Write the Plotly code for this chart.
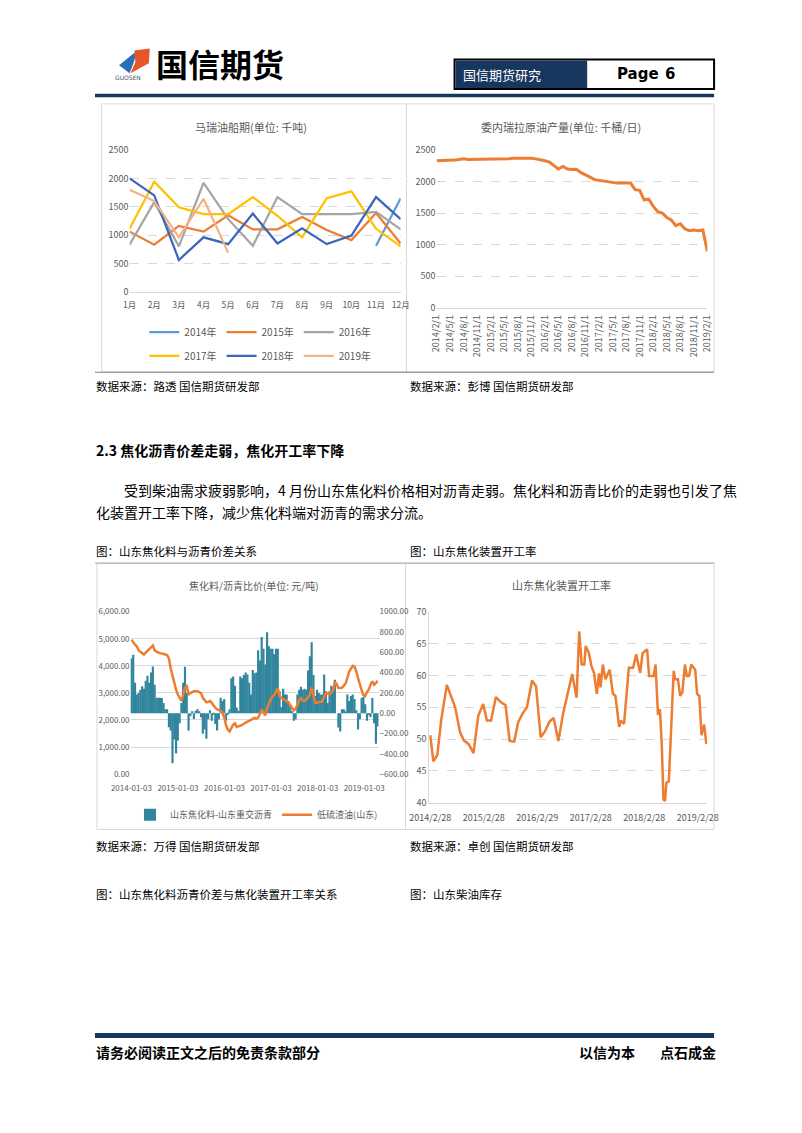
import plotly.graph_objects as go
import pandas as pd

W, H = 802, 1133
def X(px): return px / W
def Y(py): return 1 - py / H

FONT = "Noto Sans CJK SC"
NUMF = "Liberation Sans Narrow, Noto Sans CJK SC, sans-serif"
GRAY = "#595959"
GRID = "#D9D9D9"
NAVY = "#17375E"

# ---------------- Chart 1: 马瑞油船期 ----------------
months1 = ["1月", "2月", "3月", "4月", "5月", "6月", "7月", "8月", "9月", "10月", "11月", "12月"]
ship_2014 = [None, None, None, None, None, None, None, None, None, None, 810, 1650]
ship_2015 = [1060, 830, 1160, 1060, 1350, 1100, 1100, 1320, 1090, 910, 1390, 850]
ship_2016 = [830, 1580, 800, 1920, 1280, 810, 1670, 1370, 1370, 1370, 1410, 1100]
ship_2017 = [1110, 1940, 1490, 1370, 1370, 1670, 1340, 960, 1650, 1770, 1110, 800]
ship_2018 = [2000, 1700, 560, 960, 840, 1380, 850, 1120, 840, 990, 1670, 1280]
ship_2019 = [1800, 1600, 960, 1640, 690]
series1 = [("2014年", ship_2014, "#5B9BD5", "legend"),
           ("2015年", ship_2015, "#ED7D31", "legend"),
           ("2016年", ship_2016, "#A5A5A5", "legend"),
           ("2017年", ship_2017, "#FFC000", "legend2"),
           ("2018年", ship_2018, "#3C65BE", "legend2"),
           ("2019年", ship_2019, "#F4B183", "legend2")]

# ---------------- Chart 2: 委内瑞拉原油产量 ----------------
ven_prod = [2330, 2330, 2330, 2335, 2340, 2350, 2360, 2350, 2350, 2350, 2350,
            2350, 2350, 2350, 2350, 2360, 2360, 2370, 2370, 2375, 2380, 2370, 2360,
            2350, 2330, 2310, 2250, 2200, 2240, 2200, 2190, 2195, 2140, 2110, 2070,
            2030, 2020, 2000, 1990, 1985, 1975, 1975, 1980, 1975, 1870, 1860, 1710,
            1720, 1610, 1520, 1500, 1430, 1390, 1300, 1330, 1250, 1220, 1230, 1220,
            1230, 890]
cats2 = []
y_, m_ = 2014, 2
for _ in ven_prod:
    cats2.append(f"{y_}/{m_}/1")
    m_ += 1
    if m_ > 12:
        m_ = 1
        y_ += 1
ticks2 = cats2[::3]

# ---------------- Chart 3: 焦化料/沥青比价 ----------------
spread3 = [540, 575, 300, 184, 200, 230, 265, 240, 320, 370,
           300, 400, 460, 280, 152, 152, 152, 150, 100, 39,
           39, -139, -171, -494, -260, -397, -268, -100, 100, 300,
           458, 200, -171, -30, 20, -58, 23, 39, 20, -40,
           -203, -160, -252, -60, 30, -74, -10, -106, -171, -60,
           152, 119, 140, -74, -10, 39, 345, 361, 270, 55,
           23, 361, 345, 377, 400, 380, 300, 184, 426, 394,
           400, 620, 520, 750, 636, 480, 797, 660, 636, 636,
           580, 636, 636, 216, 60, 240, 184, 184, 120, 60,
           20, -74, -60, 184, 230, 260, 230, 240, 230, 420,
           560, 700, 377, 170, 230, 200, 184, 184, 380, 216,
           100, 216, 270, 250, 329, 0, -140, -180, 39, 39,
           20, 184, 120, 170, 184, 140, 30, -160, -60, 150,
           160, 87, -74, -20, -40, 150, -100, -300, -130]
resid3 = [4960, 4850, 4780, 4720, 4570, 4520, 4460, 4420, 4490, 4550,
          4620, 4690, 4750, 4570, 4520, 4490, 4470, 4460, 4440, 4420,
          4390, 4270, 3900, 3600, 3380, 3120, 2940, 2800, 2700, 2920,
          3200, 3250, 2950, 2990, 3030, 3060, 3060, 3060, 3030, 2990,
          2820, 2720, 2650, 2670, 2700, 2630, 2530, 2450, 2390, 2360,
          2340, 2250, 2100, 1800, 1650, 1580, 1730, 1820, 1880, 1740,
          1760, 1780, 1820, 1860, 1910, 1940, 1970, 2000, 2040, 2080,
          2050, 2085, 2220, 2390, 2280, 2170, 2430, 2620, 2760, 2860,
          2920, 3040, 3180, 2900, 2800, 2770, 2740, 2700, 2640, 2550,
          2460, 2360, 2400, 2580, 2730, 2800, 2720, 2710, 2750, 2840,
          2940, 3200, 2950, 2640, 2640, 2650, 2670, 2690, 2840, 3000,
          2970, 2950, 3010, 3110, 3400, 3330, 3180, 3180, 3190, 3270,
          3340, 3550, 3780, 3900, 4000, 3970, 3800, 3550, 3290, 3100,
          2920, 2880, 3030, 3130, 3300, 3430, 3300, 3355, 3440]
dates3 = pd.date_range("2014-01-03", periods=len(spread3), freq="14D")
ticks3 = ["2014-01-03", "2015-01-03", "2016-01-03", "2017-01-03", "2018-01-03", "2019-01-03"]

# ---------------- Chart 4: 山东焦化装置开工率 ----------------
dates4 = ["2014-02-28", "2014-03-21", "2014-04-17", "2014-05-15", "2014-06-21", "2014-07-20",
          "2014-08-17", "2014-09-19", "2014-10-15", "2014-11-17", "2014-12-20", "2015-01-22",
          "2015-02-24", "2015-03-22", "2015-04-19", "2015-05-22", "2015-06-24", "2015-07-27",
          "2015-08-24", "2015-09-24", "2015-10-22", "2015-11-20", "2015-12-20", "2016-01-24",
          "2016-02-20", "2016-03-23", "2016-04-21", "2016-05-21", "2016-06-19", "2016-07-22",
          "2016-08-23", "2016-09-25",
          "2016-10-24", "2016-11-23", "2016-12-11", "2016-12-28", "2017-01-15", "2017-01-24",
          "2017-02-15", "2017-03-04", "2017-03-22", "2017-04-10", "2017-04-25", "2017-05-06",
          "2017-05-21", "2017-06-08", "2017-07-07", "2017-07-29", "2017-08-15", "2017-09-10",
          "2017-09-21", "2017-10-13", "2017-11-15", "2017-12-14", "2018-01-04", "2018-01-31",
          "2018-02-17", "2018-03-20", "2018-04-02", "2018-05-03", "2018-05-16", "2018-06-02",
          "2018-06-15", "2018-06-28", "2018-07-09", "2018-07-20", "2018-07-29", "2018-08-15",
          "2018-09-06", "2018-09-17", "2018-09-28", "2018-10-16", "2018-10-31", "2018-11-15",
          "2018-12-03", "2018-12-16", "2018-12-31", "2019-01-15", "2019-02-11", "2019-02-24",
          "2019-03-11", "2019-03-26", "2019-04-13", "2019-04-28"]
rate4 = [50.6, 46.5, 47.5, 53.2, 58.5, 56.8, 55.0, 51.1, 49.8, 49.2, 47.8, 53.7,
         55.5, 52.9, 52.9, 56.6, 55.8, 55.3, 49.7, 49.6, 52.7, 54.0, 55.0, 59.2,
         58.3, 50.3, 51.2, 52.7, 53.3, 49.7, 54.0, 57.3,
         60.2, 56.5, 66.9, 61.7, 61.7, 64.6, 63.5, 61.5, 60.4, 57.1, 60.3, 58.1,
         61.7, 59.4, 60.9, 57.1, 56.8, 51.9, 52.9, 52.4, 61.2, 61.2, 63.3, 60.4,
         63.5, 64.1, 59.9, 59.9, 61.7, 53.8, 54.7, 49.0, 40.5, 40.3, 43.1, 43.4,
         54.2, 60.7, 59.4, 59.4, 56.8, 57.3, 61.7, 59.9, 59.9, 61.7, 60.9, 57.1,
         56.8, 50.6, 52.3, 49.2]
ticks4 = ["2014-02-28", "2015-02-28", "2016-02-29", "2017-02-28", "2018-02-28", "2019-02-28"]
ticktext4 = ["2014/2/28", "2015/2/28", "2016/2/29", "2017/2/28", "2018/2/28", "2019/2/28"]

fig = go.Figure()

for name, vals, col, lg in series1:
    fig.add_trace(go.Scatter(x=months1[:len(vals)], y=vals, name=name, mode="lines",
                             line=dict(color=col, width=2.25), xaxis="x", yaxis="y",
                             legend=lg, connectgaps=False))

fig.add_trace(go.Scatter(x=cats2, y=ven_prod, mode="lines", line=dict(color="#ED7D31", width=3),
                         xaxis="x2", yaxis="y2", showlegend=False))

fig.add_trace(go.Bar(x=dates3, y=spread3, name="山东焦化料-山东重交沥青",
                     width=17 * 86400000, marker=dict(color="#31859C", line=dict(width=0)),
                     xaxis="x3", yaxis="y3", legend="legend3"))
fig.add_trace(go.Scatter(x=dates3, y=resid3, name="低硫渣油(山东)", mode="lines",
                         line=dict(color="#ED7D31", width=2.5),
                         xaxis="x3", yaxis="y4", legend="legend3"))

fig.add_trace(go.Scatter(x=dates4, y=rate4, mode="lines", line=dict(color="#ED7D31", width=2.5),
                         xaxis="x4", yaxis="y5", showlegend=False))

tf = dict(family=NUMF, size=9, color=GRAY)
tf_small = dict(family=NUMF, size=8, color=GRAY)

legend_common = dict(orientation="h", xanchor="center", yanchor="middle",
                     bgcolor="rgba(0,0,0,0)", itemwidth=30,
                     font=dict(family=NUMF, size=10, color=GRAY))

fig.update_layout(
    width=W, height=H, margin=dict(l=0, r=0, t=0, b=0),
    paper_bgcolor="white", plot_bgcolor="white",
    font=dict(family=FONT, color="#000000"),
    barmode="overlay",
    legend=dict(x=X(250), y=Y(329), **legend_common),
    legend2=dict(x=X(250), y=Y(353), **legend_common),
    legend3=dict(x=X(246), y=Y(817), **{**legend_common, "font": dict(family=NUMF, size=9, color=GRAY)}),
    # chart 1
    xaxis=dict(domain=[X(114), X(396)], anchor="y", type="category", showgrid=False,
               showline=True, linecolor=GRID, ticks="", tickfont=dict(family=NUMF, size=8.5, color=GRAY),
               ticklabelstandoff=5, fixedrange=True),
    yaxis=dict(domain=[Y(288), Y(144.7)], anchor="x", range=[0, 2500], dtick=500,
               showgrid=True, gridcolor=GRID, griddash="dash", zeroline=False,
               showline=False, tickfont=tf, ticks=""),
    # chart 2
    xaxis2=dict(domain=[X(433.3), X(715)], anchor="y2", type="category", showgrid=False,
                showline=True, linecolor=GRID, ticks="", tickvals=ticks2, ticktext=ticks2,
                tickangle=-90, tickfont=dict(family=NUMF, size=9, color=GRAY),
                ticklabelstandoff=3),
    yaxis2=dict(domain=[Y(304), Y(144.7)], anchor="x2", range=[0, 2500], dtick=500,
                showgrid=True, gridcolor=GRID, griddash="dash", zeroline=False,
                showline=False, tickfont=tf, ticks=""),
    # chart 3
    xaxis3=dict(domain=[X(115), X(373)], anchor="y3", type="date",
                range=["2013-12-27", "2019-04-26"], tickvals=ticks3, ticktext=ticks3,
                showgrid=False, showline=False, ticks="", tickfont=tf_small,
                ticklabelstandoff=8),
    yaxis3=dict(domain=[Y(776), Y(611.7)], anchor="x3", side="right", range=[-600, 1000],
                dtick=200, tickformat=".2f", showgrid=False, zeroline=False,
                tickfont=tf_small, ticks=""),
    yaxis4=dict(overlaying="y3", anchor="x3", side="left", range=[0, 6000], dtick=1000,
                tickformat=",.2f", showgrid=True, gridcolor=GRID, zeroline=False,
                tickfont=tf_small, ticks=""),
    # chart 4
    xaxis4=dict(domain=[X(425.7), X(715)], anchor="y5", type="date",
                range=["2014-02-21", "2019-05-05"], tickvals=ticks4, ticktext=ticktext4,
                showgrid=False, showline=True, linecolor=GRID, ticks="", tickfont=tf,
                ticklabelstandoff=6),
    yaxis5=dict(domain=[Y(805), Y(611.7)], anchor="x4", range=[40, 70], dtick=5,
                showgrid=True, gridcolor=GRID, griddash="dash", zeroline=False,
                showline=True, linecolor=GRID, tickfont=tf, ticks=""),
)

shapes = []
def rect(x0, y0, x1, y1, line=None, fill=None, lw=1):
    shapes.append(dict(type="rect", xref="paper", yref="paper", x0=X(x0), x1=X(x1),
                       y0=Y(y1), y1=Y(y0), line=dict(color=line or "rgba(0,0,0,0)", width=lw if line else 0),
                       fillcolor=fill or "rgba(0,0,0,0)", layer="below"))
def hline(x0, x1, y, color, w):
    shapes.append(dict(type="line", xref="paper", yref="paper", x0=X(x0), x1=X(x1),
                       y0=Y(y), y1=Y(y), line=dict(color=color, width=w)))
def poly(pts, color):
    d = "M " + " L ".join(f"{X(a):.5f},{Y(b):.5f}" for a, b in pts) + " Z"
    shapes.append(dict(type="path", xref="paper", yref="paper", path=d,
                       fillcolor=color, line=dict(width=0)))

# chart frames
rect(85, 98, 402, 369, line=GRID)
rect(402, 98, 722, 369, line=GRID)
rect(80, 563, 401, 832, line=GRID)
rect(401, 563, 722, 832, line=GRID)
hline(78, 722, 369.5, "#7F7F7F", 1)
hline(78, 722, 562.5, "#A6A6A6", 1)

# header
poly([(103, 59), (122, 44), (118, 57), (114, 67)], "#2C6FB7")
poly([(119, 44), (135, 42), (134, 57), (115, 67), (120, 56)], "#E8552B")
rect(452, 53, 722, 83, line="#000000", lw=2)
shapes.append(dict(type="rect", xref="paper", yref="paper", x0=X(453), x1=X(590),
                   y0=Y(82), y1=Y(54), fillcolor=NAVY, line=dict(width=0)))
hline(78, 722, 89.5, NAVY, 3.5)
# footer
hline(78, 722, 1040.5, NAVY, 5)

fig.update_layout(shapes=shapes)

ann = []
def text(x, y, s, size=12, color="#000000", bold=False, anchor="left", family=FONT):
    ann.append(dict(xref="paper", yref="paper", x=X(x), y=Y(y), text=(f"<b>{s}</b>" if bold else s),
                    showarrow=False, xanchor=anchor, yanchor="middle",
                    font=dict(family=family, size=size, color=color)))

text(97, 71, "GUOSEN", size=6, color="#44546A", family="DejaVu Sans")
text(139, 57, "国信期货", size=32, bold=True)
text(459, 68, "国信期货研究", size=13, color="#FFFFFF")
text(619, 68, "Page", size=15, bold=True, family="DejaVu Sans")
text(669, 68, "6", size=15, bold=True, family="DejaVu Sans")

text(240, 121, "马瑞油船期(单位: 千吨)", size=11, color=GRAY, anchor="center")
text(563, 121, "委内瑞拉原油产量(单位: 千桶/日)", size=11, color=GRAY, anchor="center")
text(243, 585, "焦化料/沥青比价(单位: 元/吨)", size=10, color=GRAY, anchor="center")
text(563, 585, "山东焦化装置开工率", size=11, color=GRAY, anchor="center")

text(77, 383, "数据来源：路透 国信期货研发部", size=11.5)
text(404, 383, "数据来源：彭博 国信期货研发部", size=11.5)
text(77, 448, "2.3 焦化沥青价差走弱，焦化开工率下降", size=14, bold=True)
text(106, 489, "受到柴油需求疲弱影响，4 月份山东焦化料价格相对沥青走弱。焦化料和沥青比价的走弱也引发了焦", size=14)
text(77, 511, "化装置开工率下降，减少焦化料端对沥青的需求分流。", size=14)
text(77, 550, "图：山东焦化料与沥青价差关系", size=11.5)
text(404, 550, "图：山东焦化装置开工率", size=11.5)
text(77, 849, "数据来源：万得 国信期货研发部", size=11.5)
text(404, 849, "数据来源：卓创 国信期货研发部", size=11.5)
text(77, 897, "图：山东焦化料沥青价差与焦化装置开工率关系", size=11.5)
text(404, 897, "图：山东柴油库存", size=11.5)
text(77, 1057, "请务必阅读正文之后的免责条款部分", size=14, bold=True)
text(579, 1057, "以信为本", size=14, bold=True)
text(664, 1057, "点石成金", size=14, bold=True)

fig.update_layout(annotations=ann)
fig.write_html("out.html")
